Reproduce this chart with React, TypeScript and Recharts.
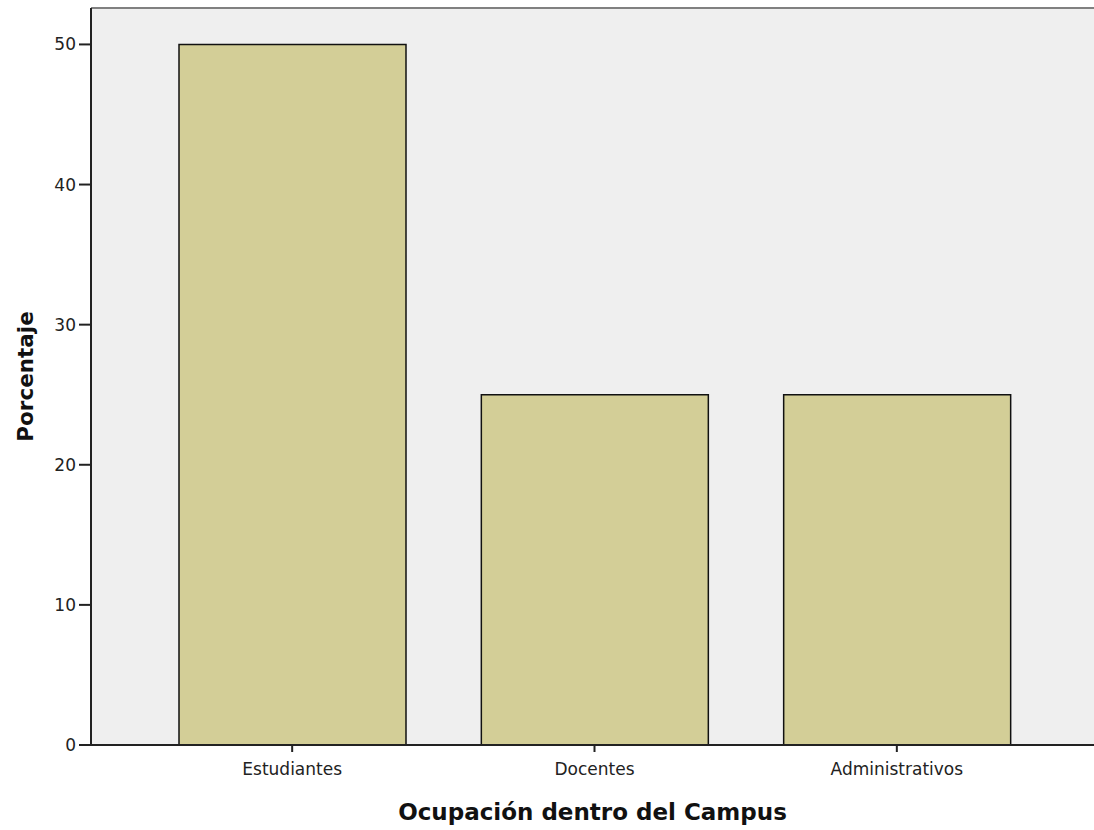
import React from 'react';
import { BarChart, Bar, XAxis, YAxis, CartesianGrid, ReferenceLine } from 'recharts';

// Ocupación dentro del Campus - porcentaje
const categories = ['Estudiantes', 'Docentes', 'Administrativos'];
const percentages = [50, 25, 25];
const yTicks = [0, 10, 20, 30, 40, 50];
const yMax = 52.6;

const data = categories.map((name, i) => ({ name, value: percentages[i] }));

const FONT = '"DejaVu Sans", sans-serif';

const YTitle = (props: any) => {
  const vb = props.viewBox || {};
  const cy = vb.y + vb.height / 2;
  return (
    <text
      x={25}
      y={cy}
      transform={`rotate(-90, 25, ${cy})`}
      textAnchor="middle"
      dominantBaseline="central"
      fontFamily={FONT}
      fontWeight="bold"
      fontSize={21.5}
      fill="#111"
    >
      Porcentaje
    </text>
  );
};

const App: React.FC = () => {
  return (
    <div
      style={{
        position: 'absolute',
        left: 0,
        top: 0,
        width: 1094,
        height: 830,
        background: '#fff',
        overflow: 'hidden',
      }}
    >
      <BarChart
        width={1094}
        height={830}
        data={data}
        margin={{ top: 8, right: 0, left: 0, bottom: 0 }}
      >
        <CartesianGrid fill="#EFEFEF" horizontal={false} vertical={false} />
        <XAxis
          dataKey="name"
          height={85}
          padding={{ left: 50, right: 46 }}
          axisLine={{ stroke: '#222', strokeWidth: 2 }}
          tickLine={{ stroke: '#222', strokeWidth: 2 }}
          tickSize={7}
          tickMargin={11}
          tick={{ fontFamily: FONT, fontSize: 17, fill: '#222' }}
          label={{
            value: 'Ocupación dentro del Campus',
            position: 'insideBottom',
            offset: 10,
            fontFamily: FONT,
            fontWeight: 'bold',
            fontSize: 23,
            fill: '#111',
          }}
        />
        <YAxis
          width={91}
          domain={[0, yMax]}
          ticks={yTicks}
          allowDataOverflow
          axisLine={{ stroke: '#222', strokeWidth: 2 }}
          tickLine={{ stroke: '#222', strokeWidth: 2 }}
          tickSize={12}
          tickMargin={3}
          tick={{ fontFamily: FONT, fontSize: 17, fill: '#222' }}
          label={<YTitle />}
        />
        <ReferenceLine y={yMax} stroke="#808080" strokeWidth={2} />
        <Bar
          dataKey="value"
          fill="#D3CE97"
          stroke="#111"
          strokeWidth={1.5}
          barSize={227}
          isAnimationActive={false}
        />
      </BarChart>
    </div>
  );
};

export default App;
